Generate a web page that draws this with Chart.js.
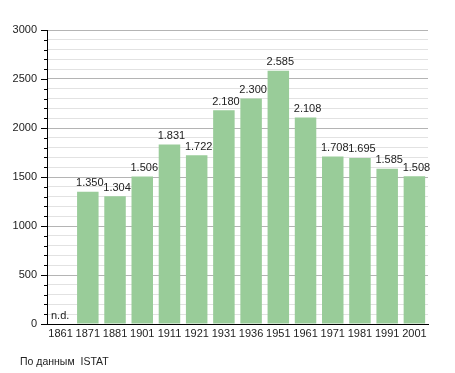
<!DOCTYPE html>
<html>
<head>
<meta charset="utf-8">
<script src="https://cdn.jsdelivr.net/npm/chart.js@4"></script>
<style>
  html, body { margin: 0; padding: 0; background: #fff; }
  #wrap { position: relative; width: 455px; height: 373px; }
  #note { position: absolute; left: 20px; top: 355px; font: 10.5px "Liberation Sans", Arial, sans-serif; color: #222; }
</style>
</head>
<body>
<div id="wrap">
  <canvas id="chart" width="455" height="373"></canvas>
  <div id="note">По данным&nbsp; ISTAT</div>
</div>
<script>
// Census years and population (1861 not available)
const years = ['1861', '1871', '1881', '1901', '1911', '1921', '1931', '1936', '1951', '1961', '1971', '1981', '1991', '2001'];
const population = [null, 1350, 1304, 1506, 1831, 1722, 2180, 2300, 2585, 2108, 1708, 1695, 1585, 1508];
const yMax = 3000;
const missingLabel = 'n.d.';

const FONT = '11px "Liberation Sans", Arial, sans-serif';

function fmt(v) {
    return Math.floor(v / 1000) + '.' + String(v % 1000).padStart(3, '0');
}

// value labels above bars, "n.d." for missing
const valueLabels = {
    id: 'valueLabels',
    afterDatasetsDraw(chart) {
        const ctx = chart.ctx;
        const meta = chart.getDatasetMeta(0);
        ctx.save();
        ctx.font = FONT;
        ctx.fillStyle = '#222';
        ctx.textBaseline = 'bottom';
        meta.data.forEach((bar, i) => {
            const v = population[i];
            if (v === null) {
                ctx.textAlign = 'left';
                ctx.fillText(missingLabel, chart.chartArea.left + 4, chart.chartArea.bottom - 3);
            } else {
                ctx.textAlign = 'center';
                ctx.fillText(fmt(v), bar.x + 2, bar.y - 3);
            }
        });
        ctx.restore();
    }
};

// major / minor tick marks on the y axis
const yTickMarks = {
    id: 'yTickMarks',
    afterDraw(chart) {
        const ctx = chart.ctx;
        const y = chart.scales.y;
        const left = chart.chartArea.left;
        ctx.save();
        ctx.strokeStyle = '#000';
        ctx.lineWidth = 1;
        for (let v = 0; v <= yMax; v += 100) {
            const py = Math.round(y.getPixelForValue(v)) + 0.5;
            const len = v % 500 === 0 ? 6 : 3;
            ctx.beginPath();
            ctx.moveTo(left - len, py);
            ctx.lineTo(left, py);
            ctx.stroke();
        }
        ctx.restore();
    }
};

new Chart(document.getElementById('chart').getContext('2d'), {
    type: 'bar',
    data: {
        labels: years,
        datasets: [{
            data: population,
            backgroundColor: '#99cc99',
            borderWidth: 0,
            barPercentage: 0.79,
            categoryPercentage: 1
        }]
    },
    options: {
        responsive: false,
        animation: false,
        layout: { padding: { left: 0, top: 30, right: 27, bottom: 0 } },
        plugins: {
            legend: { display: false },
            tooltip: { enabled: false }
        },
        scales: {
            x: {
                grid: { display: false, drawTicks: false },
                border: { color: '#000', width: 1 },
                ticks: { color: '#222', font: { family: '"Liberation Sans", Arial, sans-serif', size: 11 }, padding: 3, maxRotation: 0, autoSkip: false },
                afterFit: (s) => { s.height = 49; }
            },
            y: {
                min: 0,
                max: yMax,
                ticks: {
                    stepSize: 100,
                    autoSkip: false,
                    color: '#222',
                    font: { family: '"Liberation Sans", Arial, sans-serif', size: 11 },
                    padding: 10,
                    callback: (v) => (v % 500 === 0 ? v : '')
                },
                grid: {
                    drawTicks: false,
                    color: (c) => (c.tick && c.tick.value % 500 === 0 ? '#b4b4b4' : '#e2e2e2')
                },
                border: { color: '#000', width: 1 },
                afterFit: (s) => { s.width = 47; }
            }
        }
    },
    plugins: [valueLabels, yTickMarks]
});
</script>
</body>
</html>
